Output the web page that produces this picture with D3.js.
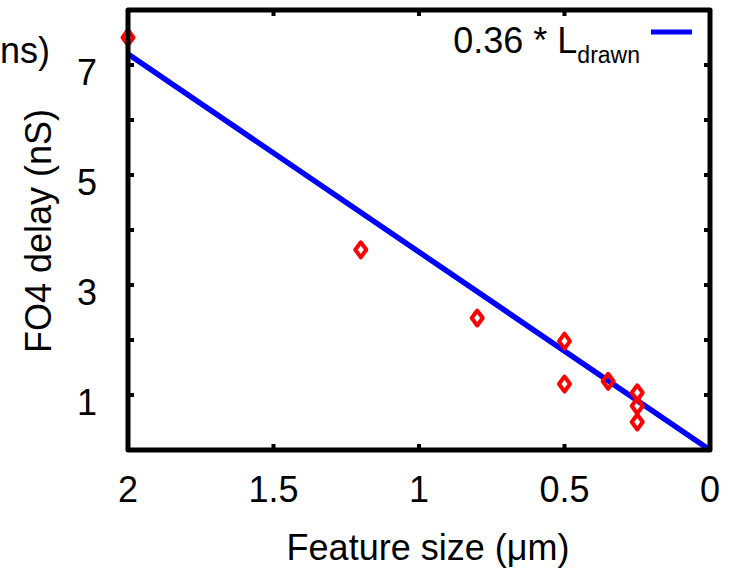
<!DOCTYPE html>
<html>
<head>
<meta charset="utf-8">
<script src="https://cdn.jsdelivr.net/npm/d3@7/dist/d3.min.js"></script>
<style>
  html, body { margin: 0; padding: 0; background: #fff; }
  svg { display: block; font-family: "Liberation Sans", Arial, sans-serif; }
</style>
</head>
<body>
<svg id="chart" width="729" height="569"></svg>
<script>
// Measured FO4 delays per process generation
const featureSize = [2.0, 1.2, 0.8, 0.5, 0.5, 0.35, 0.25, 0.25, 0.25];
const fo4Delay    = [7.5, 3.64, 2.4, 1.98, 1.2, 1.25, 1.04, 0.8, 0.51];

// Linear fit: delay = 0.36 * L_drawn, with L_drawn counted in 0.1 µm steps
const fitCoeff = 0.36;
const fitStep = 0.1;
const fitRange = [2, 0];

const xTicks = [2, 1.5, 1, 0.5, 0];
const xTickLabels = ["2", "1.5", "1", "0.5", "0"];
const yMinorTicks = [1, 2, 3, 4, 5, 6, 7];
const yTickLabels = [1, 3, 5, 7];

const svg = d3.select("#chart");
const plotLeft = 128, plotRight = 710, plotTop = 10, plotBottom = 450;

const x = d3.scaleLinear().domain([2, 0]).range([plotLeft, plotRight]);
const y = d3.scaleLinear().domain([0, 8]).range([plotBottom, plotTop]);

const FONT = 36;

// tick marks, drawn inward on all four sides
const tickLen = 6;
const ticks = svg.append("g").attr("stroke", "#000").attr("stroke-width", 4);
xTicks.slice(1, -1).forEach(v => {
  ticks.append("line").attr("x1", x(v)).attr("x2", x(v)).attr("y1", plotBottom).attr("y2", plotBottom - tickLen);
  ticks.append("line").attr("x1", x(v)).attr("x2", x(v)).attr("y1", plotTop).attr("y2", plotTop + tickLen);
});
yMinorTicks.forEach(v => {
  ticks.append("line").attr("x1", plotLeft).attr("x2", plotLeft + tickLen).attr("y1", y(v)).attr("y2", y(v));
  ticks.append("line").attr("x1", plotRight).attr("x2", plotRight - tickLen).attr("y1", y(v)).attr("y2", y(v));
});

// fit line
const fitLine = d3.line().x(d => x(d)).y(d => y(fitCoeff * d / fitStep));
svg.append("path")
  .attr("d", fitLine(fitRange))
  .attr("fill", "none")
  .attr("stroke", "#0000ff")
  .attr("stroke-width", 5.5);

// data points as open diamonds
const diamond = "M0,-7.5 L5.5,0 L0,7.5 L-5.5,0 Z";
svg.append("g").selectAll("path")
  .data(featureSize.map((f, i) => [f, fo4Delay[i]]))
  .join("path")
  .attr("d", diamond)
  .attr("transform", d => `translate(${x(d[0])},${y(d[1])})`)
  .attr("fill", "none")
  .attr("stroke", "#ff0000")
  .attr("stroke-width", 4)
  .attr("stroke-linejoin", "round");

// frame
svg.append("rect")
  .attr("x", plotLeft).attr("y", plotTop)
  .attr("width", plotRight - plotLeft).attr("height", plotBottom - plotTop)
  .attr("fill", "none")
  .attr("stroke", "#000")
  .attr("stroke-width", 5)
  .attr("stroke-linejoin", "round");

// x tick labels
svg.append("g").selectAll("text")
  .data(xTicks)
  .join("text")
  .attr("x", d => x(d))
  .attr("y", 502)
  .attr("text-anchor", "middle")
  .attr("font-size", FONT)
  .text((d, i) => xTickLabels[i]);

// y tick labels
svg.append("g").selectAll("text")
  .data(yTickLabels)
  .join("text")
  .attr("x", 97)
  .attr("y", d => y(d) + 20)
  .attr("text-anchor", "end")
  .attr("font-size", FONT)
  .text(d => d);

// axis titles
svg.append("text")
  .attr("x", 428).attr("y", 560)
  .attr("text-anchor", "middle")
  .attr("font-size", FONT)
  .text("Feature size (μm)");

svg.append("text")
  .attr("transform", "translate(51,231) rotate(-90)")
  .attr("text-anchor", "middle")
  .attr("font-size", FONT)
  .text("FO4 delay (nS)");

// tail of the neighbouring panel's axis title, running off the left edge
svg.append("text")
  .attr("x", 50).attr("y", 63)
  .attr("text-anchor", "end")
  .attr("font-size", FONT)
  .text("(ns)");

// legend
const legend = svg.append("text")
  .attr("x", 640).attr("y", 53)
  .attr("text-anchor", "end")
  .attr("font-size", FONT);
legend.append("tspan").text(`${fitCoeff} * L`);
legend.append("tspan").attr("font-size", 23).attr("dy", 10).text("drawn");

svg.append("line")
  .attr("x1", 651).attr("x2", 692)
  .attr("y1", 32).attr("y2", 32)
  .attr("stroke", "#0000ff")
  .attr("stroke-width", 5);
</script>
</body>
</html>
